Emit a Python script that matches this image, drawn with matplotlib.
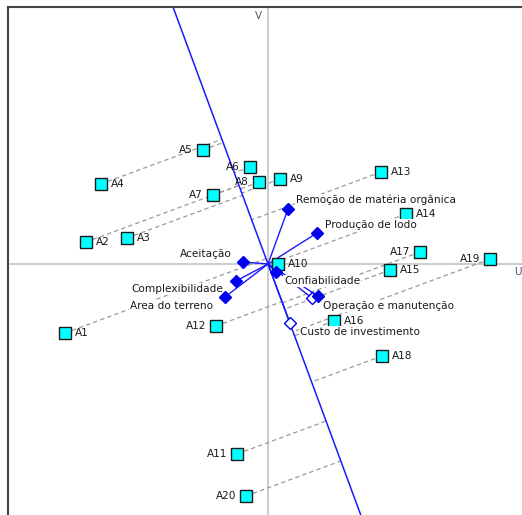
import numpy as np
import matplotlib.pyplot as plt

# alternatives in the (U, V) plane
alt_names = ["A1", "A2", "A3", "A4", "A5", "A6", "A7", "A8", "A9", "A10",
             "A11", "A12", "A13", "A14", "A15", "A16", "A17", "A18", "A19", "A20"]
alt_u = [-2.03, -1.82, -1.41, -1.67, -0.65, -0.18, -0.55, -0.09, 0.12, 0.10,
         -0.31, -0.52, 1.13, 1.38, 1.22, 0.66, 1.52, 1.14, 2.22, -0.22]
alt_v = [-0.69, 0.22, 0.26, 0.80, 1.14, 0.97, 0.69, 0.82, 0.85, 0.00,
         -1.90, -0.62, 0.92, 0.50, -0.06, -0.57, 0.12, -0.92, 0.05, -2.32]
alt_label_left = ["A5", "A6", "A7", "A8", "A11", "A12", "A17", "A19", "A20"]

# criteria axes
crit_names = ["Remoção de matéria orgânica", "Produção de lodo", "Aceitação",
              "Complexibilidade", "Area do terreno", "Confiabilidade",
              "Operação e manutenção", "Custo de investimento"]
crit_u = [0.20, 0.49, -0.25, -0.32, -0.43, 0.08, 0.50, 0.22]
crit_v = [0.55, 0.31, 0.02, -0.17, -0.33, -0.08, -0.32, -0.59]
crit_filled = [True, True, True, True, True, True, True, False]
crit_offset = [(8, 9), (8, 8), (-11, 8), (-13, -8), (-12, -9), (8, -9), (5, -10), (10, -9)]

# secondary (unlabelled) criterion marker
extra_u = [0.44]
extra_v = [-0.34]

# decision axis
pi_dir = np.array([0.3696, -1.0])
pi_dir = pi_dir / np.linalg.norm(pi_dir)

fig = plt.figure(figsize=(5.22, 5.15), dpi=100)
ax = fig.add_axes([8 / 522, -0.1, 1.0, 1 - 7 / 515 + 0.1])
ax.set_xlim(-2.60, 2.62)
ax.set_ylim(-3.025, 2.57)
ax.set_xticks([])
ax.set_yticks([])
for side in ["right", "bottom"]:
    ax.spines[side].set_visible(False)
for side in ["left", "top"]:
    ax.spines[side].set_color("#444444")
    ax.spines[side].set_linewidth(1.5)

# U / V axes
ax.axhline(0, color="#c8c8c8", lw=1.3, zorder=1)
ax.axvline(0, color="#c8c8c8", lw=1.3, zorder=1)
ax.text(-0.06, 2.48, "V", fontsize=7.5, color="#555577", ha="right", va="center")
ax.text(2.46, -0.08, "U", fontsize=7.5, color="#555577", ha="left", va="center")

# decision axis line
ax.axline((0, 0), (pi_dir[0], pi_dir[1]), color="#1a1aff", lw=1.1, zorder=2)

# projections of the alternatives on the decision axis
for u, v in zip(alt_u, alt_v):
    p = np.array([u, v])
    foot = np.dot(p, pi_dir) * pi_dir
    ax.plot([u, foot[0]], [v, foot[1]], color="#9a9a9a", lw=0.9,
            dashes=(3.5, 2.5), zorder=1.5)

# criteria sticks
for u, v in zip(crit_u + extra_u, crit_v + extra_v):
    ax.plot([0, u], [0, v], color="#1a1aff", lw=1.0, zorder=3)

for name, u, v, filled, (dx, dy) in zip(crit_names, crit_u, crit_v, crit_filled, crit_offset):
    ax.plot(u, v, marker="D", ms=6.6, mec="#0000ee", mew=1.0,
            mfc="#0000ee" if filled else "white", zorder=6)
    ax.annotate(name, (u, v), xytext=(dx * 0.72, dy * 0.72), textcoords="offset points",
                ha="right" if dx < 0 else "left", va="center", fontsize=7.6,
                color="#1a1a1a", zorder=5,
                bbox=dict(boxstyle="square,pad=0.05", fc="white", ec="none"))
ax.plot(extra_u, extra_v, ls="none", marker="D", ms=6.6, mec="#0000ee", mew=1.0,
        mfc="white", zorder=5.5)

# alternatives
ax.plot(alt_u, alt_v, ls="none", marker="s", ms=9.3, mfc="#00ffff", mec="#1a1a1a",
        mew=1.0, zorder=4)
for name, u, v in zip(alt_names, alt_u, alt_v):
    left = name in alt_label_left
    ax.annotate(name, (u, v), xytext=(-10 * 0.72 if left else 10 * 0.72, 0),
                textcoords="offset points", ha="right" if left else "left",
                va="center", fontsize=7.6, color="#1a1a1a", zorder=4)

fig.savefig("out.png", dpi=100)
